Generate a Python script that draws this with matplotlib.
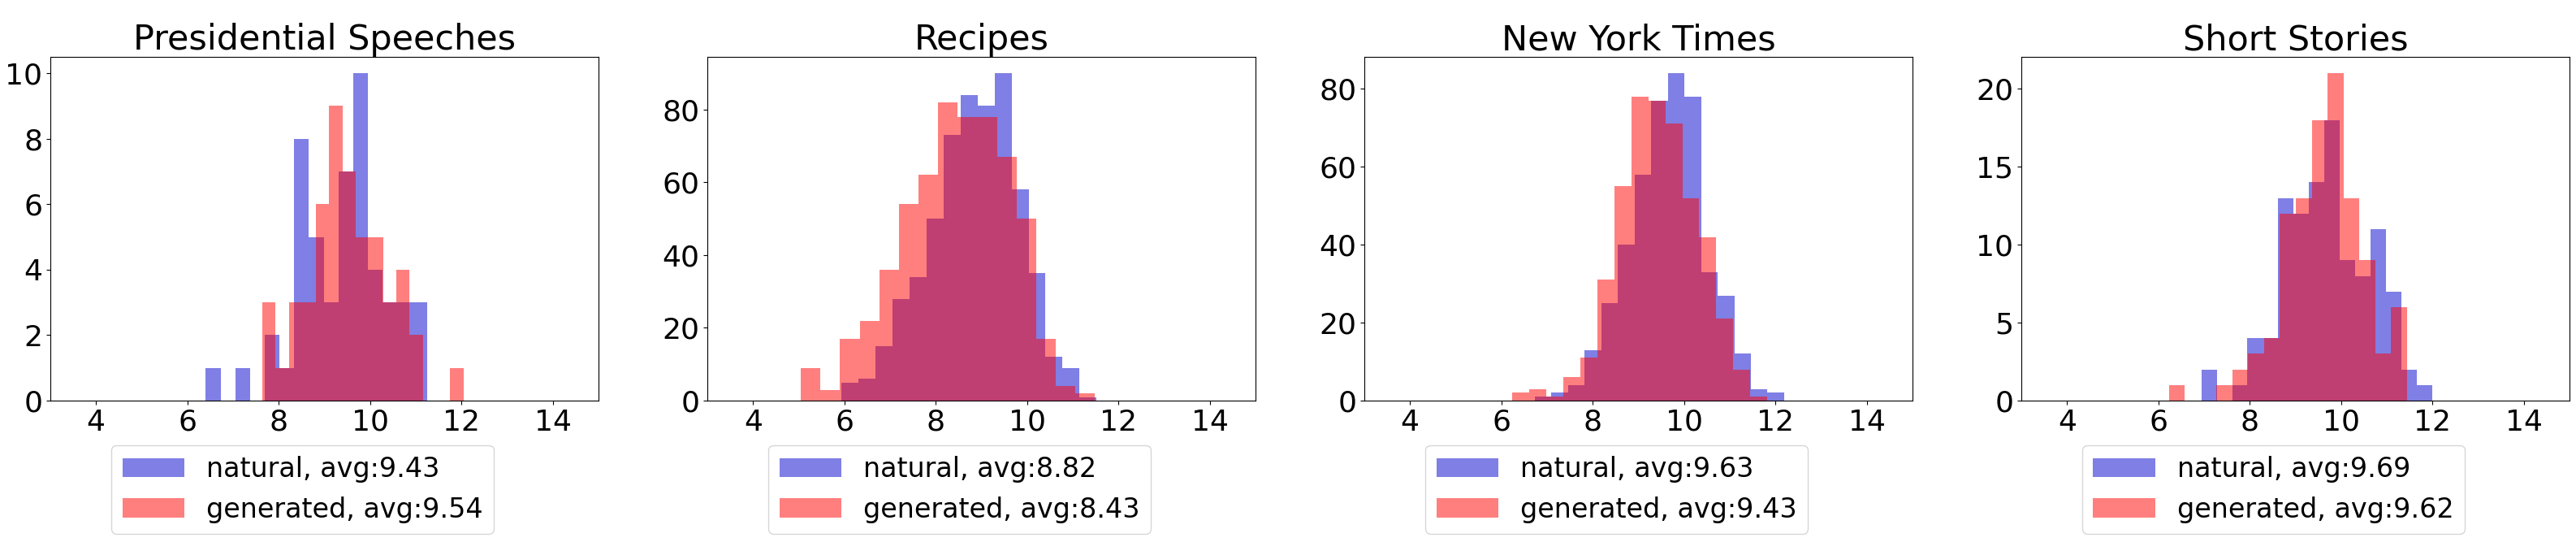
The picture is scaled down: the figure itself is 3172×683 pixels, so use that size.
import numpy as np
import matplotlib
matplotlib.use("Agg")
from matplotlib import pyplot as plt

titles = ["Presidential Speeches", "Recipes", "New York Times", "Short Stories"]

# bin ranges (15 bins each) and counts
nat_range = [(6.404, 11.24), (5.94, 11.52), (6.731, 12.19), (6.94, 11.99)]
gen_range = [(7.64, 12.04), (5.048, 11.485), (6.244, 11.82), (6.23, 11.44)]

nat_counts = [
    [1, 0, 1, 0, 2, 1, 8, 5, 3, 7, 10, 4, 3, 3, 3],
    [5, 6, 15, 28, 34, 50, 73, 84, 81, 90, 58, 35, 12, 9, 1],
    [1, 2, 4, 13, 25, 40, 58, 77, 84, 78, 33, 27, 12, 3, 2],
    [2, 0, 1, 4, 4, 13, 12, 14, 18, 9, 8, 11, 7, 2, 1],
]
gen_counts = [
    [3, 1, 3, 3, 6, 9, 7, 5, 5, 3, 4, 2, 0, 0, 1],
    [9, 3, 17, 22, 36, 54, 62, 82, 78, 78, 67, 50, 17, 4, 2],
    [2, 3, 1, 6, 11, 31, 55, 78, 77, 71, 52, 42, 21, 8, 1],
    [1, 0, 0, 1, 2, 3, 4, 12, 13, 18, 21, 13, 9, 3, 6],
]
nat_avg = [9.43, 8.82, 9.63, 9.69]
gen_avg = [9.54, 8.43, 9.43, 9.62]

yticks = [[0, 2, 4, 6, 8, 10], [0, 20, 40, 60, 80], [0, 20, 40, 60, 80], [0, 5, 10, 15, 20]]
xticks = [4, 6, 8, 10, 12, 14]

W, H = 3172, 683
fig = plt.figure(figsize=(W / 100, H / 100), dpi=100)

for i in range(4):
    left = (62 + 809 * i) / W
    ax = fig.add_axes([left, (H - 493) / H, 675 / W, 423 / H])

    e1 = np.linspace(nat_range[i][0], nat_range[i][1], len(nat_counts[i]) + 1)
    e2 = np.linspace(gen_range[i][0], gen_range[i][1], len(gen_counts[i]) + 1)
    ax.hist(e1[:-1], bins=e1, weights=nat_counts[i], histtype='stepfilled',
            color='mediumblue', alpha=0.5, label="natural, avg:%.2f" % nat_avg[i])
    ax.hist(e2[:-1], bins=e2, weights=gen_counts[i], histtype='stepfilled',
            color='red', alpha=0.5, label="generated, avg:%.2f" % gen_avg[i])

    ax.set_xlim(3, 15)
    ax.set_xticks(xticks)
    ax.set_yticks(yticks[i])
    ax.tick_params(labelsize=26)
    ax.set_title(titles[i], fontsize=31)
    ax.legend(loc='upper center', bbox_to_anchor=(0.46, -0.09), fontsize=24,
              handlelength=2.3)

plt.savefig("out.png", dpi=100)
